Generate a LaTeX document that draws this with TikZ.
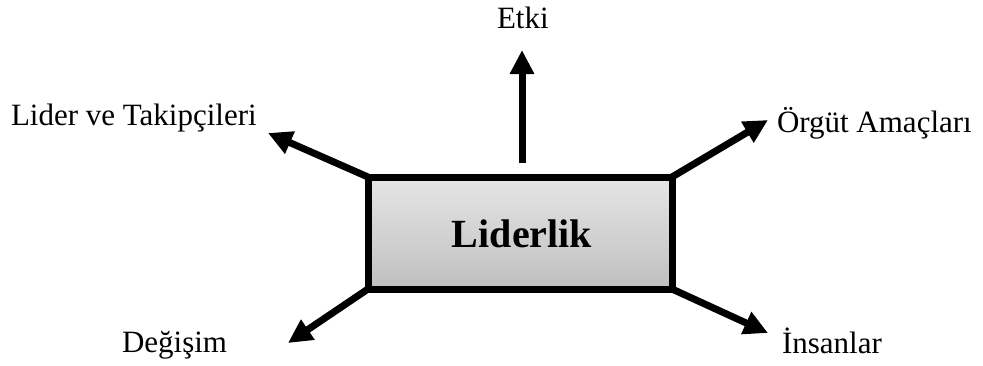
\documentclass[tikz,border=0pt]{standalone}
\usepackage{fontspec}
\setmainfont{Liberation Serif}
\usetikzlibrary{arrows.meta}
\begin{document}
\begin{tikzpicture}[x=1bp,y=-1bp,
  lbl/.style={inner sep=0pt,outer sep=0pt,font=\fontsize{31bp}{35bp}\selectfont},
  conn/.style={line width=7bp,-{Triangle[length=24bp,width=23bp]}},
  mainbox/.style={draw,line width=7bp,outer sep=0pt,inner sep=0pt,
    minimum width=304bp,minimum height=112bp,
    top color=white!90!black,bottom color=white!75!black}]
\useasboundingbox (0,0) rectangle (983,365);
\node[mainbox] (box) at (520,233) {};
\node[inner sep=0pt,anchor=base,font=\bfseries\fontsize{40bp}{44bp}\selectfont] (title) at (522,247) {Liderlik};
\node[lbl,anchor=base west] (etki) at (497,28) {Etki};
\node[lbl,anchor=base west] (lider) at (11,125) {Lider ve Takipçileri};
\node[lbl,anchor=base west] (orgut) at (777,132) {Örgüt Amaçları};
\node[lbl,anchor=base west] (degisim) at (122,352) {Değişim};
\node[lbl,anchor=base west] (insan) at (782,353) {İnsanlar};
\coordinate (etkistart) at (522,163);
\coordinate (etkitip) at (522,50);
\coordinate (lidertip) at (268,133);
\coordinate (orguttip) at (768,120);
\coordinate (degisimtip) at (288,343);
\coordinate (insantip) at (768,333);
\draw[conn] (etkistart) -- (etkitip);
\draw[conn] (box.north west) -- (lidertip);
\draw[conn] (box.north east) -- (orguttip);
\draw[conn] (box.south west) -- (degisimtip);
\draw[conn] (box.south east) -- (insantip);
\end{tikzpicture}
\end{document}
